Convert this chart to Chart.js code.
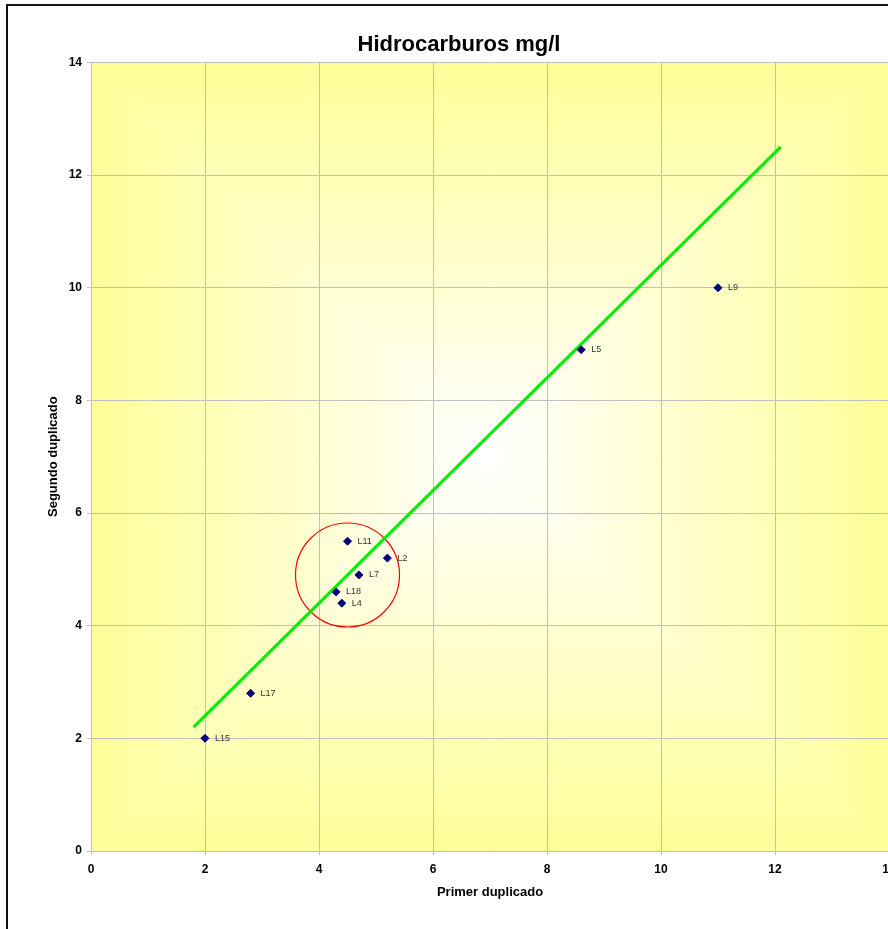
<!DOCTYPE html>
<html>
<head>
<meta charset="utf-8">
<script src="https://cdn.jsdelivr.net/npm/chart.js@4/dist/chart.umd.min.js"></script>
<style>
  html, body { margin: 0; padding: 0; background: #fff; overflow: hidden; }
  #marco { position: absolute; left: 6px; top: 4px; width: 1000px; height: 1000px; border: 2px solid #111; box-sizing: border-box; }
  #grafico { position: absolute; left: 0; top: 0; }
</style>
</head>
<body>
<div id="marco"></div>
<canvas id="grafico" width="903" height="929"></canvas>
<script>
// laboratorios y sus duplicados
const labs = ['L15', 'L17', 'L11', 'L2', 'L7', 'L18', 'L4', 'L5', 'L9'];
const primer = [2, 2.8, 4.5, 5.2, 4.7, 4.3, 4.4, 8.6, 11];
const segundo = [2, 2.8, 5.5, 5.2, 4.9, 4.6, 4.4, 8.9, 10];

// recta de tendencia (extremos)
const rectaX = [1.8, 12.1];
const rectaY = [2.2, 12.5];

// circulo que marca el grupo central
const circuloX = [4.5];
const circuloY = [4.9];

const ticksEje = [0, 2, 4, 6, 8, 10, 12, 14];

const fuente = "'Liberation Sans', Arial, sans-serif";

// fondo degradado desde el centro (blanco -> amarillo)
const fondo = {
  id: 'fondo',
  beforeDraw(chart) {
    const a = chart.chartArea;
    const w = Math.round(a.right - a.left), h = Math.round(a.bottom - a.top);
    const off = document.createElement('canvas');
    off.width = w; off.height = h;
    const octx = off.getContext('2d');
    const img = octx.createImageData(w, h);
    const hw = w / 2, hh = h / 2;
    for (let y = 0; y < h; y++) {
      for (let x = 0; x < w; x++) {
        const t = Math.min(1, Math.max(Math.abs(x - hw) / hw, Math.abs(y - hh) / hh));
        const i = (y * w + x) * 4;
        img.data[i] = 255;
        img.data[i + 1] = 255;
        img.data[i + 2] = Math.round(255 - 102 * t);
        img.data[i + 3] = 255;
      }
    }
    octx.putImageData(img, 0, 0);
    chart.ctx.drawImage(off, Math.round(a.left), Math.round(a.top));
  }
};

// etiquetas de cada punto
const etiquetas = {
  id: 'etiquetas',
  afterDatasetsDraw(chart) {
    const ctx = chart.ctx;
    const meta = chart.getDatasetMeta(0);
    ctx.save();
    ctx.font = '9px ' + fuente;
    ctx.fillStyle = '#333';
    ctx.textBaseline = 'middle';
    ctx.textAlign = 'left';
    meta.data.forEach((p, i) => {
      ctx.fillText(labs[i], p.x + 10, p.y);
    });
    ctx.restore();
  }
};

const ctx = document.getElementById('grafico');

new Chart(ctx, {
  type: 'scatter',
  data: {
    datasets: [
      {
        label: 'Duplicados',
        data: primer.map((x, i) => ({ x, y: segundo[i] })),
        pointStyle: 'rectRot',
        pointRadius: 4,
        backgroundColor: '#000080',
        borderColor: '#000080',
        borderWidth: 1,
        order: 0
      },
      {
        label: 'Recta',
        type: 'line',
        data: rectaX.map((x, i) => ({ x, y: rectaY[i] })),
        borderColor: '#00ee00',
        borderWidth: 3,
        pointRadius: 0,
        fill: false,
        order: 1
      },
      {
        label: 'Grupo',
        data: circuloX.map((x, i) => ({ x, y: circuloY[i] })),
        pointStyle: 'circle',
        pointRadius: 52,
        backgroundColor: 'rgba(0,0,0,0)',
        borderColor: '#ff0000',
        borderWidth: 1.2,
        order: 2
      }
    ]
  },
  options: {
    responsive: false,
    animation: false,
    layout: { autoPadding: false, padding: { left: 29, right: 14, top: 0, bottom: 29 } },
    plugins: {
      legend: { display: false },
      tooltip: { enabled: false },
      title: {
        display: true,
        text: 'Hidrocarburos mg/l',
        color: '#000',
        font: { family: fuente, size: 22, weight: 'bold' },
        padding: { top: 32, bottom: 4 }
      }
    },
    scales: {
      x: {
        type: 'linear',
        min: 0,
        max: 14,
        afterBuildTicks: s => { s.ticks = ticksEje.map(v => ({ value: v })); },
        afterFit: s => { s.height = 49; },
        ticks: { color: '#000', font: { family: fuente, size: 12, weight: 'bold' }, padding: 7, maxRotation: 0 },
        grid: { color: '#c0c0c0', tickColor: '#c0c0c0', tickLength: 4 },
        border: { color: '#c0c0c0' },
        title: {
          display: true,
          text: 'Primer duplicado',
          color: '#000',
          font: { family: fuente, size: 13, weight: 'bold' },
          padding: { top: 2, bottom: 0 }
        }
      },
      y: {
        type: 'linear',
        min: 0,
        max: 14,
        afterBuildTicks: s => { s.ticks = ticksEje.map(v => ({ value: v })); },
        afterFit: s => { s.width = 62; },
        ticks: { color: '#000', font: { family: fuente, size: 12, weight: 'bold' }, padding: 5 },
        grid: { color: '#c0c0c0', tickColor: '#c0c0c0', tickLength: 4 },
        border: { color: '#c0c0c0' },
        title: {
          display: true,
          text: 'Segundo duplicado',
          color: '#000',
          font: { family: fuente, size: 13, weight: 'bold' },
          padding: { top: 17, bottom: 0 }
        }
      }
    }
  },
  plugins: [fondo, etiquetas]
});
</script>
</body>
</html>
